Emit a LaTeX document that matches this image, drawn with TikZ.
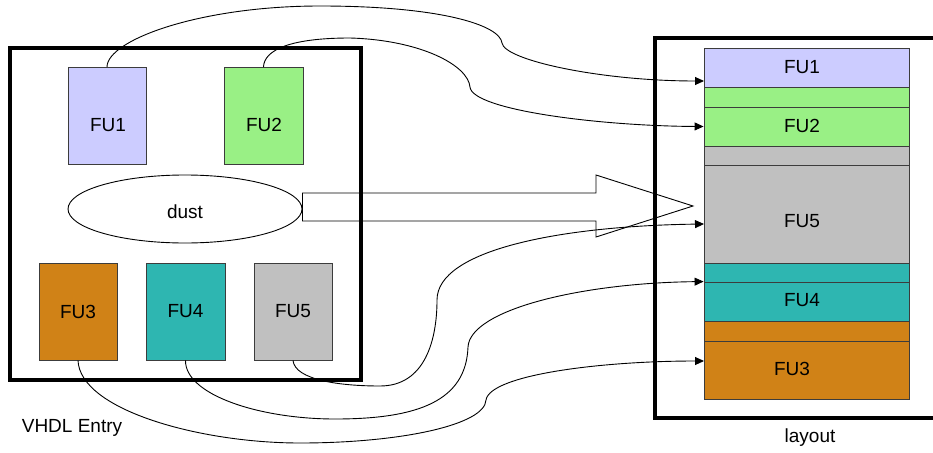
\documentclass[tikz,border=0pt]{standalone}
\usepackage{fontspec}
\setmainfont{Liberation Sans}
\usetikzlibrary{arrows.meta,shapes.geometric}
\definecolor{cfuone}{RGB}{204,204,255}
\definecolor{cfutwo}{RGB}{153,240,133}
\definecolor{cfuthree}{RGB}{208,130,23}
\definecolor{cfufour}{RGB}{46,182,177}
\definecolor{cfufive}{RGB}{192,192,192}
\definecolor{cedge}{RGB}{60,60,60}
\begin{document}
\begin{tikzpicture}[x=1pt,y=-1pt,
  every node/.style={font=\fontsize{19}{21}\selectfont},
  fubox/.style={draw=cedge, line width=0.9pt, minimum width=78pt, minimum height=97pt, inner sep=0pt},
  strip/.style={draw=cedge, line width=0.9pt, minimum width=205pt, inner sep=0pt},
  frame/.style={line width=4pt},
  link/.style={line width=0.9pt, -{Triangle[length=9pt,width=8pt]}},
  blockarrow/.style={line width=0.9pt}
]
\clip (0,0) rectangle (933,452);
\fill[white] (0,0) rectangle (933,452);
% frames
\draw[frame] (10,48) rectangle (361,380);
\draw[frame] (655,38) rectangle (960,418);
% left boxes
\node[fubox, fill=cfuone] (fu1) at (107,116) {};
\node (fu1t) at (108,125) {FU1};
\node[fubox, fill=cfutwo, minimum width=79pt] (fu2) at (263.5,116) {};
\node (fu2t) at (264,125) {FU2};
\node[draw, line width=0.9pt, ellipse, minimum width=234pt, minimum height=68pt, inner sep=0pt] (dust) at (185,209) {};
\node (dustt) at (185,212) {dust};
\node[fubox, fill=cfuthree] (fu3) at (78,311.5) {FU3};
\node[fubox, fill=cfufour, minimum width=79pt] (fu4) at (185.5,311.5) {FU4};
\node[fubox, fill=cfufive] (fu5) at (293,311.5) {FU5};
% right column
\node[strip, fill=cfuone, minimum height=39pt] (r1) at (806.5,67.5) {};
\node[strip, fill=cfutwo, minimum height=20pt] (g2) at (806.5,97) {};
\node[strip, fill=cfutwo, minimum height=39pt] (r2) at (806.5,126.5) {};
\node[strip, fill=cfufive, minimum height=19pt] (g5) at (806.5,155.5) {};
\node[strip, fill=cfufive, minimum height=98pt] (r5) at (806.5,214) {};
\node[strip, fill=cfufour, minimum height=19pt] (g4) at (806.5,272.5) {};
\node[strip, fill=cfufour, minimum height=39pt] (r4) at (806.5,301.5) {};
\node[strip, fill=cfuthree, minimum height=20pt] (g3) at (806.5,331) {};
\node[strip, fill=cfuthree, minimum height=58pt] (r3) at (806.5,370) {};
\node (r1t) at (802,67) {FU1};
\node (r2t) at (802,126) {FU2};
\node (r5t) at (802,221) {FU5};
\node (r4t) at (802,300) {FU4};
\node (r3t) at (792,369) {FU3};
% labels
\node (vhdl) at (72,428) {VHDL Entry};
\node (lay) at (810,438) {layout};
% block arrow
\draw[blockarrow] (dust.east |- 0,193) -- (596,193) -- (596,175) -- (693,206) -- (596,237) -- (596,221) -- (dust.east |- 0,221) -- cycle;
% targets
\coordinate (t1) at (704,81);
\coordinate (t5) at (704,224);
\coordinate (t3) at (704,361);
% links
\draw[link] (fu1.north) .. controls (107,40) and (200,6) .. (320,6)
  .. controls (440,6) and (500,25) .. (502,43)
  .. controls (504,60) and (600,81) .. (t1);
\draw[link] (fu2.north) .. controls (264,50) and (290,38) .. (350,38)
  .. controls (420,40) and (468,65) .. (470,87)
  .. controls (472,110) and (600,126) .. (r2.west);
\draw[link] (fu5.south) .. controls (295,380) and (340,386) .. (380,386)
  .. controls (425,386) and (437,340) .. (437,300)
  .. controls (437,250) and (560,226) .. (t5);
\draw[link] (fu4.south) .. controls (185,395) and (260,419) .. (335,419)
  .. controls (420,419) and (466,400) .. (468,347)
  .. controls (470,310) and (580,283) .. (r4.north west);
\draw[link] (fu3.south) .. controls (80,410) and (200,443) .. (300,443)
  .. controls (400,443) and (485,425) .. (486,400)
  .. controls (490,375) and (600,361) .. (t3);
\end{tikzpicture}
\end{document}
